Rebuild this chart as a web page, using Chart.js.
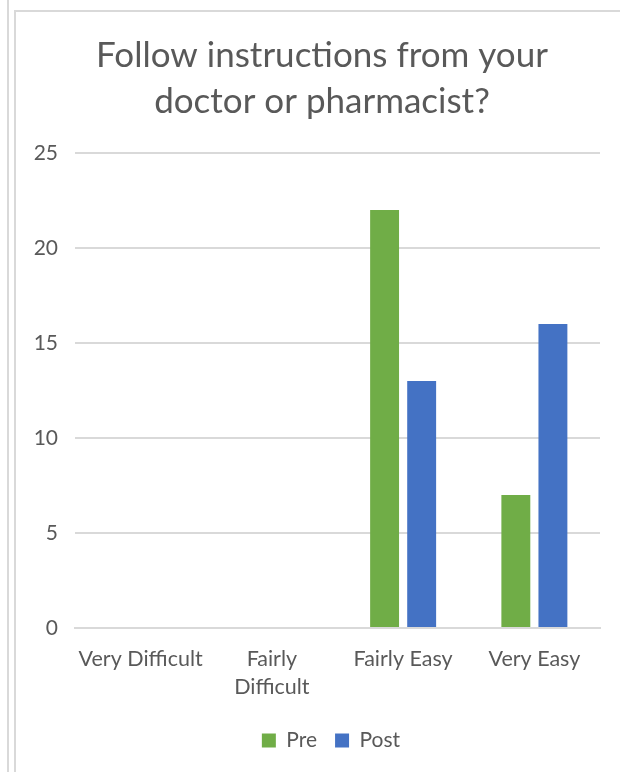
<!DOCTYPE html>
<html>
<head>
<meta charset="utf-8">
<script src="https://cdn.jsdelivr.net/npm/chart.js@4"></script>
<style>
  body { margin: 0; background: #fff; width: 620px; height: 772px; overflow: hidden; position: relative; }
  .rule { position: absolute; background: #d9d9d9; }
  #box { position: absolute; left: 16px; top: 11px; width: 604px; height: 761px; }
</style>
</head>
<body>
<div class="rule" style="left:7px;top:0;width:2px;height:772px"></div>
<div class="rule" style="left:14px;top:10px;width:2px;height:762px"></div>
<div class="rule" style="left:14px;top:10px;width:606px;height:2px"></div>
<div id="box"><canvas id="chart"></canvas></div>
<script>
// survey answers before and after
const categories = ["Very Difficult", ["Fairly", "Difficult"], "Fairly Easy", "Very Easy"];
const preValues = [0, 0, 22, 7];
const postValues = [0, 0, 13, 16];
const yTicks = [0, 5, 10, 15, 20, 25];

const grey = "#595959";
const font = "Lato, 'Open Sans', sans-serif";

// title and legend sit centred on the whole box, not on the padded area
const recentre = {
  id: "recentre",
  afterLayout(chart) {
    chart.titleBlock.left += 14;
    chart.titleBlock.right += 14;
    chart.legend.left += 23;
    chart.legend.right += 23;
  },
};

const ctx = document.getElementById("chart").getContext("2d");
const chart = new Chart(ctx, {
  type: "bar",
  data: {
    labels: categories,
    datasets: [
      { label: "Pre", data: preValues, backgroundColor: "#70ad47" },
      { label: "Post", data: postValues, backgroundColor: "#4472c4" },
    ],
  },
  plugins: [recentre],
  options: {
    responsive: true,
    maintainAspectRatio: false,
    animation: false,
    categoryPercentage: 0.565,
    barPercentage: 0.78,
    layout: { padding: { left: 0, right: 20, top: 22, bottom: 11 } },
    plugins: {
      tooltip: { enabled: false },
      title: {
        display: true,
        text: ["Follow instructions from your", "doctor or pharmacist?"],
        color: grey,
        font: { family: font, size: 35, weight: "normal", lineHeight: 1.3 },
        padding: { top: 0, bottom: 29 },
      },
      legend: {
        position: "bottom",
        labels: {
          color: grey,
          font: { family: font, size: 21 },
          boxWidth: 14,
          boxHeight: 14,
          padding: 18,
        },
      },
    },
    scales: {
      x: {
        grid: { display: false },
        border: { color: "#d9d9d9", width: 2 },
        afterFit: (scale) => { scale.height += 2; },
        ticks: {
          color: grey,
          font: { family: font, size: 21.5, lineHeight: 1.3 },
          maxRotation: 0,
          padding: 9,
        },
      },
      y: {
        min: 0,
        max: 25,
        afterFit: (scale) => { scale.width = 59; },
        afterBuildTicks: (scale) => { scale.ticks = yTicks.map((v) => ({ value: v })); },
        border: { display: false },
        grid: { color: "#d9d9d9", lineWidth: 2, drawTicks: false },
        ticks: {
          color: grey,
          font: { family: font, size: 21 },
          padding: 17,
        },
      },
    },
  },
});
</script>
</body>
</html>
